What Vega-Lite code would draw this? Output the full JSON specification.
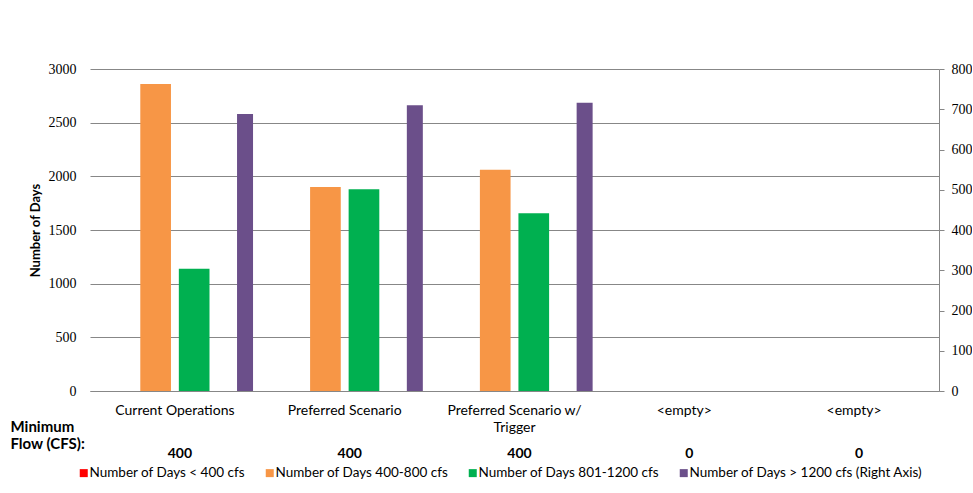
{
  "$schema": "https://vega.github.io/schema/vega-lite/v6.json",
  "padding": {"left": 10, "top": 62, "right": 0, "bottom": 10},
  "bounds": "flush",
  "spacing": 48,
  "background": "white",
  "config": {
    "font": "Lato",
    "view": {"stroke": null},
    "axis": {"labelColor": "#000000", "titleColor": "#000000"}
  },
  "datasets": {
    "days": [
      {"scenario": "Current Operations", "series": "Number of Days < 400 cfs", "days": 0},
      {"scenario": "Current Operations", "series": "Number of Days 400-800 cfs", "days": 2860},
      {"scenario": "Current Operations", "series": "Number of Days 801-1200 cfs", "days": 1140},
      {"scenario": "Current Operations", "series": "Number of Days > 1200 cfs (Right Axis)", "days": 688},
      {"scenario": "Preferred Scenario", "series": "Number of Days < 400 cfs", "days": 0},
      {"scenario": "Preferred Scenario", "series": "Number of Days 400-800 cfs", "days": 1900},
      {"scenario": "Preferred Scenario", "series": "Number of Days 801-1200 cfs", "days": 1880},
      {"scenario": "Preferred Scenario", "series": "Number of Days > 1200 cfs (Right Axis)", "days": 710},
      {"scenario": "Preferred Scenario w/ Trigger", "series": "Number of Days < 400 cfs", "days": 0},
      {"scenario": "Preferred Scenario w/ Trigger", "series": "Number of Days 400-800 cfs", "days": 2062},
      {"scenario": "Preferred Scenario w/ Trigger", "series": "Number of Days 801-1200 cfs", "days": 1655},
      {"scenario": "Preferred Scenario w/ Trigger", "series": "Number of Days > 1200 cfs (Right Axis)", "days": 716}
    ],
    "flow": [
      {"scenario": "Current Operations", "row": "Minimum Flow (CFS):", "flow": 400},
      {"scenario": "Preferred Scenario", "row": "Minimum Flow (CFS):", "flow": 400},
      {"scenario": "Preferred Scenario w/ Trigger", "row": "Minimum Flow (CFS):", "flow": 400},
      {"scenario": "<empty>#4", "row": "Minimum Flow (CFS):", "flow": 0},
      {"scenario": "<empty>#5", "row": "Minimum Flow (CFS):", "flow": 0}
    ]
  },
  "vconcat": [
    {
      "width": 849,
      "height": 322,
      "data": {"name": "days"},
      "layer": [
        {
          "transform": [{"filter": "datum.series != 'Number of Days > 1200 cfs (Right Axis)'"}],
          "mark": {"type": "bar"},
          "encoding": {
            "x": {
              "field": "scenario",
              "type": "nominal",
              "sort": null,
              "scale": {
                "domain": ["Current Operations", "Preferred Scenario", "Preferred Scenario w/ Trigger", "<empty>#4", "<empty>#5"],
                "paddingInner": 0,
                "paddingOuter": 0
              },
              "axis": {
                "title": null,
                "labelAngle": 0,
                "ticks": false,
                "domainColor": "#878787",
                "labelFont": "Lato",
                "labelFontSize": 14,
                "labelPadding": 12,
                "labelLineHeight": 17,
                "labelExpr": "length(datum.label) > 22 ? [slice(datum.label, 0, lastindexof(datum.label, ' ')), slice(datum.label, lastindexof(datum.label, ' ') + 1)] : split(datum.label, '#')[0]"
              }
            },
            "xOffset": {
              "field": "series",
              "type": "nominal",
              "scale": {
                "domain": ["Number of Days < 400 cfs", "Number of Days 400-800 cfs", "Number of Days 801-1200 cfs", "Number of Days > 1200 cfs (Right Axis)"],
                "paddingInner": 0.204,
                "paddingOuter": 0.305
              }
            },
            "y": {
              "field": "days",
              "type": "quantitative",
              "scale": {"domain": [0, 3000], "nice": false},
              "axis": {
                "title": "Number of Days",
                "titleFont": "Lato",
                "titleFontSize": 13,
                "titleFontWeight": "bold",
                "titlePadding": 6,
                "values": [0, 500, 1000, 1500, 2000, 2500, 3000],
                "format": "d",
                "labelFont": "Liberation Serif",
                "labelFontSize": 14,
                "labelPadding": 14,
                "domain": false,
                "ticks": false,
                "grid": true,
                "gridColor": "#878787",
                "gridOpacity": 1
              }
            },
            "color": {
              "field": "series",
              "type": "nominal",
              "scale": {
                "domain": ["Number of Days < 400 cfs", "Number of Days 400-800 cfs", "Number of Days 801-1200 cfs", "Number of Days > 1200 cfs (Right Axis)"],
                "range": ["#FF0000", "#F79646", "#00B050", "#6B4F8A"]
              },
              "legend": {
                "title": null,
                "orient": "none",
                "direction": "horizontal",
                "legendX": -13,
                "legendY": 397,
                "padding": 0,
                "symbolType": "square",
                "symbolSize": 64,
                "symbolStrokeWidth": 0,
                "labelFont": "Lato",
                "labelFontSize": 13.5,
                "labelColor": "#000000",
                "labelOffset": -1,
                "columnPadding": 17,
                "labelLimit": 400
              }
            }
          }
        },
        {
          "transform": [{"filter": "datum.series == 'Number of Days > 1200 cfs (Right Axis)'"}],
          "mark": {"type": "bar"},
          "encoding": {
            "x": {
              "field": "scenario",
              "type": "nominal",
              "sort": null,
              "scale": {
                "domain": ["Current Operations", "Preferred Scenario", "Preferred Scenario w/ Trigger", "<empty>#4", "<empty>#5"],
                "paddingInner": 0,
                "paddingOuter": 0
              }
            },
            "xOffset": {
              "field": "series",
              "type": "nominal",
              "scale": {"paddingInner": 0.792, "paddingOuter": 1, "align": 0.956}
            },
            "y": {
              "field": "days",
              "type": "quantitative",
              "scale": {"domain": [0, 800], "nice": false},
              "axis": {
                "orient": "right",
                "title": null,
                "values": [0, 100, 200, 300, 400, 500, 600, 700, 800],
                "format": "d",
                "labelFont": "Liberation Serif",
                "labelFontSize": 14,
                "labelPadding": 7,
                "domain": true,
                "domainColor": "#878787",
                "ticks": true,
                "tickSize": 5,
                "tickColor": "#878787",
                "grid": false
              }
            },
            "color": {
              "field": "series",
              "type": "nominal"
            }
          }
        }
      ],
      "resolve": {
        "scale": {"y": "independent", "xOffset": "independent"},
        "axis": {"y": "independent"}
      }
    },
    {
      "width": 849,
      "height": 30,
      "data": {"name": "flow"},
      "mark": {"type": "text", "font": "Lato", "fontSize": 14, "fontWeight": "bold", "dx": 5, "color": "#000000"},
      "encoding": {
        "x": {
          "field": "scenario",
          "type": "nominal",
          "sort": null,
          "scale": {
            "domain": ["Current Operations", "Preferred Scenario", "Preferred Scenario w/ Trigger", "<empty>#4", "<empty>#5"],
            "paddingInner": 0,
            "paddingOuter": 0
          },
          "axis": null
        },
        "y": {
          "field": "row",
          "type": "nominal",
          "axis": {
            "title": null,
            "domain": false,
            "ticks": false,
            "tickSize": 0,
            "labelAlign": "left",
            "labelPadding": 80,
            "labelOffset": -28,
            "labelFont": "Lato",
            "labelFontSize": 15,
            "labelFontWeight": "bold",
            "labelLineHeight": 17,
            "labelExpr": "[slice(datum.label, 0, indexof(datum.label, ' ')), slice(datum.label, indexof(datum.label, ' ') + 1)]"
          }
        },
        "text": {"field": "flow", "type": "quantitative"}
      }
    }
  ]
}
